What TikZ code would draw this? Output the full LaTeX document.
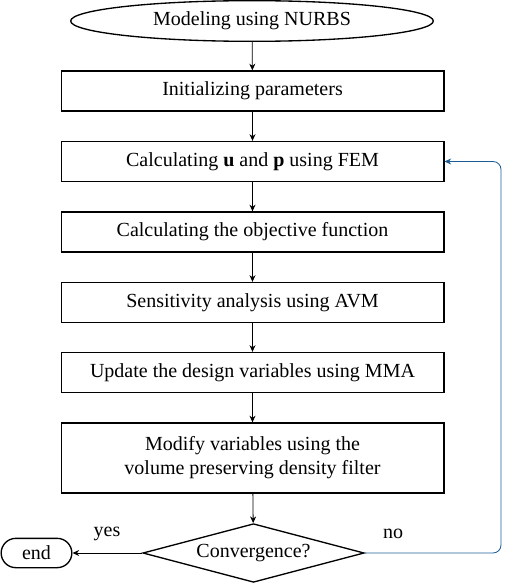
\documentclass[tikz,border=0pt]{standalone}
\usepackage{fontspec}
\setmainfont{Liberation Serif}
\usetikzlibrary{shapes.geometric, arrows.meta}
\definecolor{LoopBlue}{HTML}{1B5D98}

\begin{document}
\begin{tikzpicture}[x=0.75pt, y=-0.75pt,
    every node/.style={font=\fontsize{15}{18}\selectfont},
    stepbox/.style={draw, line width=1pt, minimum width=287pt, minimum height=30pt, inner sep=0pt, align=center},
    flow/.style={draw, line width=0.6pt, -{Stealth[length=5pt, width=4.5pt]}}]
    \useasboundingbox (0,0) rectangle (505,585);

    % Start and steps
    \node[draw, ellipse, line width=1pt, minimum width=272pt, minimum height=30.5pt, inner sep=0pt] (model) at (252, 21) {Modeling using NURBS};
    \node[stepbox] (init) at (252.5, 91) {Initializing parameters};
    \node[stepbox] (fem) at (252.5, 161.5) {Calculating \textbf{u} and \textbf{p} using FEM};
    \node[stepbox] (obj) at (252.5, 232) {Calculating the objective function};
    \node[stepbox] (sens) at (252.5, 302.5) {Sensitivity analysis using AVM};
    \node[stepbox] (mma) at (252.5, 372.5) {Update the design variables using MMA};
    \node[stepbox, minimum height=52.5pt] (filter) at (252.5, 458) {Modify variables using the\\volume preserving density filter};

    % Decision and end
    \node[draw, diamond, aspect=3.7, line width=1pt, minimum width=166pt, minimum height=44pt, inner sep=0pt] (conv) at (253.5, 553) {Convergence?};
    \node[draw, line width=1pt, rounded corners=11pt, minimum width=53pt, minimum height=22pt, inner sep=0pt] (stop) at (36.5, 553) {end};
    \node (yes) at (107, 534) {yes};
    \node (no) at (393, 534) {no};

    % Connectors
    \draw[flow] (model) -- (init);
    \draw[flow] (init) -- (fem);
    \draw[flow] (fem) -- (obj);
    \draw[flow] (obj) -- (sens);
    \draw[flow] (sens) -- (mma);
    \draw[flow] (mma) -- (filter);
    \draw[flow] (filter) -- (conv);
    \draw[flow] (conv) -- (stop);
    \coordinate (turn) at (501, 161.5);
    \draw[flow, LoopBlue, rounded corners=6pt] (conv.east) -| (turn) -- (fem.east);
\end{tikzpicture}
\end{document}
